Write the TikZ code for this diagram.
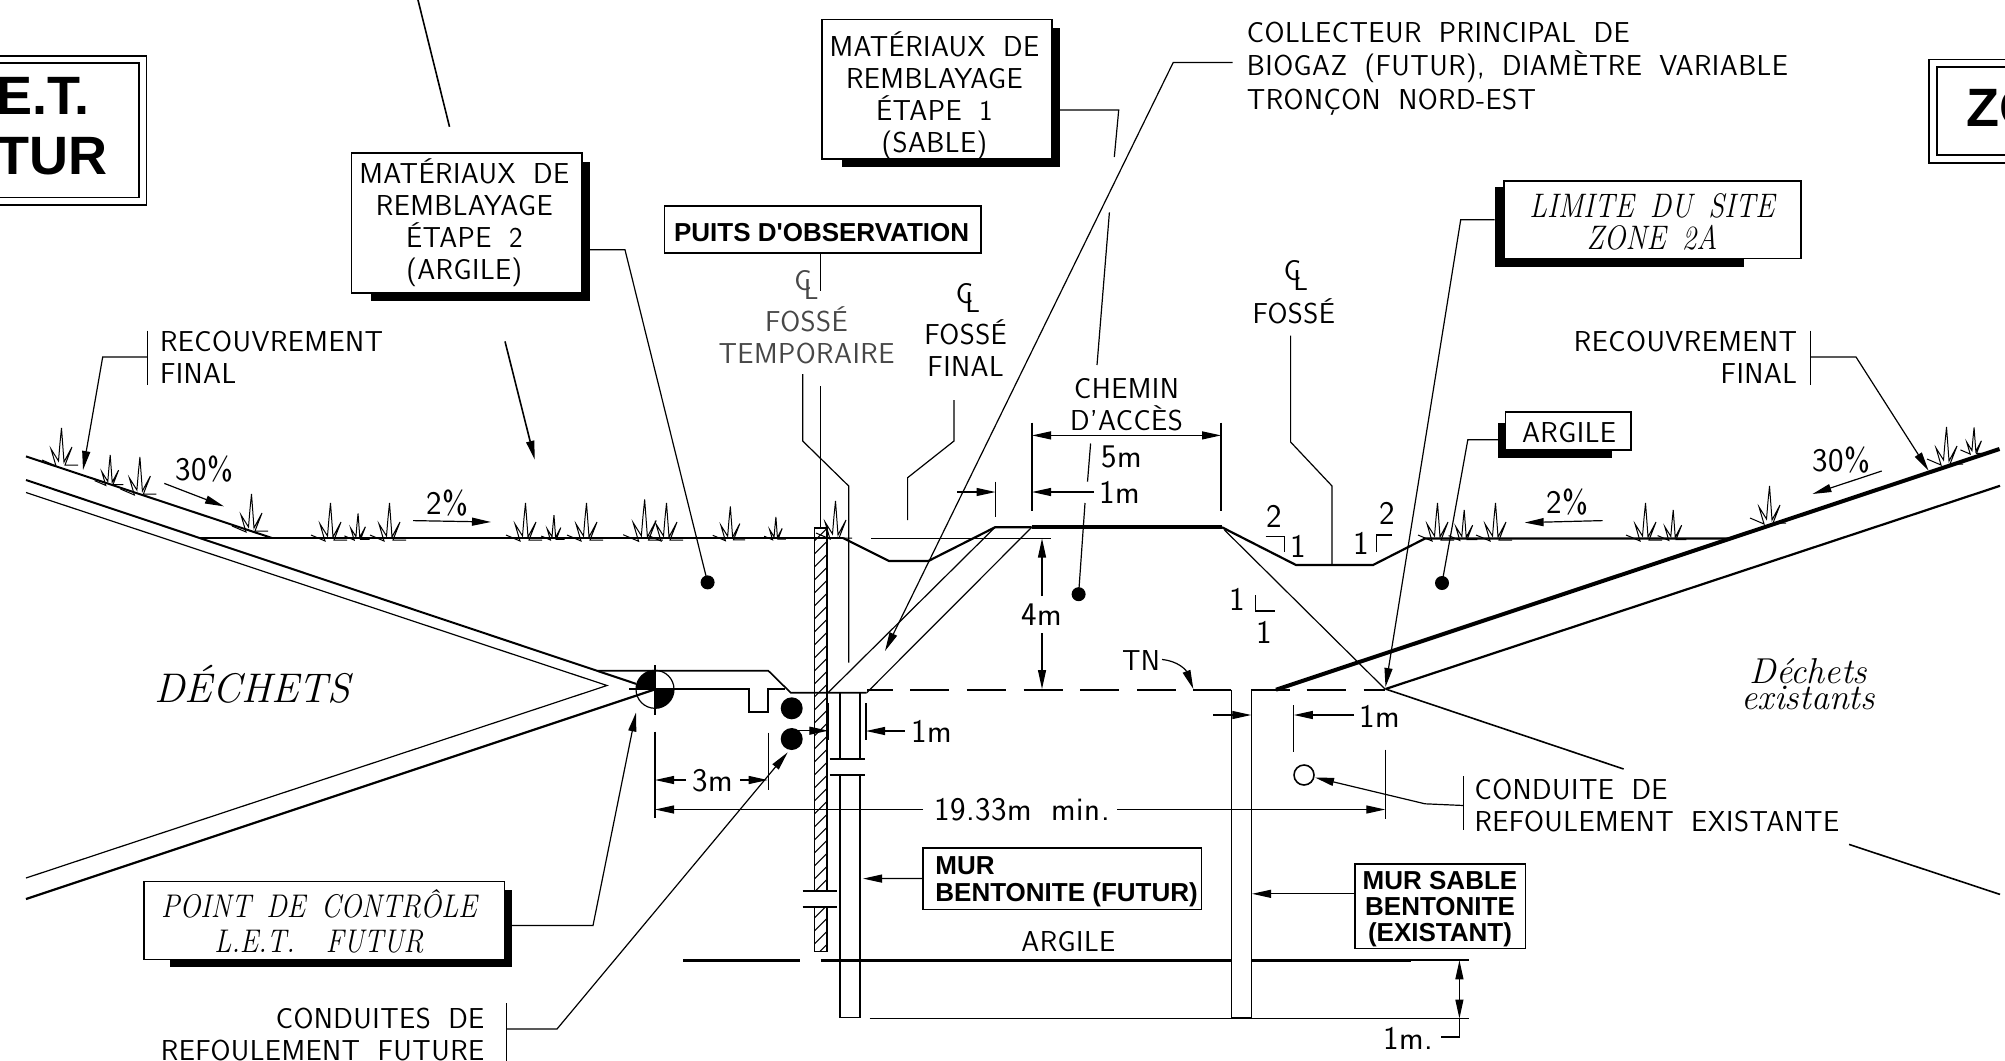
\documentclass[tikz,border=0pt]{standalone}
\usepackage{fontspec}
\usetikzlibrary{arrows.meta,calc}
\setsansfont{Latin Modern Sans}[WordSpace=1.85,LetterSpace=1.5]
\newfontfamily\cadbold{Liberation Sans}
\newfontfamily\cadital{Latin Modern Roman}[FakeStretch=0.85,WordSpace=1.6]
\tikzset{
  x=0.5pt,y=-0.5pt,
  >={Triangle[length=9.5pt,width=4pt]},
  thin line/.style={line width=0.6pt,line join=miter},
  reg line/.style={line width=0.8pt},
  heavy line/.style={line width=1.5pt},
  heavier line/.style={line width=2pt},
  lbl/.style={inner sep=0pt,outer sep=0pt,font=\fontsize{14.4}{16}\selectfont\sffamily,align=flush center},
  dimlbl/.style={inner sep=0pt,outer sep=0pt,font=\fontsize{16.5}{18}\selectfont\sffamily,align=flush center},
  lblfaint/.style={lbl,text=black!72},
  ital/.style={inner sep=0pt,font=\fontsize{17}{17.3}\selectfont\cadital\itshape,align=flush center},
  bld/.style={inner sep=0pt,font=\fontsize{13}{13.5}\selectfont\cadbold\bfseries,align=flush left},
  ttl/.style={inner sep=0pt,font=\fontsize{27}{30}\selectfont\cadbold\bfseries},
  tbox/.style={draw,line width=0.8pt,fill=white,inner sep=0pt,outer sep=0pt},
  shbox/.style={fill=black,inner sep=0pt,outer sep=0pt},
}
% rectangle node given left, top, right, bottom in picture pixels
\newcommand\rectnode[7][]{%
  \pgfmathsetmacro\rw{(#5-#3)*0.5}\pgfmathsetmacro\rh{(#6-#4)*0.5}%
  \node[#2,minimum width=\rw pt,minimum height=\rh pt,#1] (#7) at ({(#3+#5)/2},{(#4+#6)/2}) {};}
\newcommand\clsym{\rlap{C}\kern0.33em\lower0.32em\hbox{L}}
\begin{document}
\begin{tikzpicture}
\clip (0,0) rectangle (2005,1060);
%% title boxes
\draw[reg line] (-5,55.8) rectangle (146.4,204.9);
\draw[reg line] (-5,63.2) rectangle (138.8,197.4);
\node[ttl,anchor=east] (ttlA) at (90,95.5) {E.T.};
\node[ttl,anchor=east] (ttlB) at (108,156) {TUR};
\draw[reg line] (2010,59.5) -- (1929,59.5) -- (1929,163) -- (2010,163);
\draw[reg line] (2010,67) -- (1937,67) -- (1937,155) -- (2010,155);
\node[ttl,anchor=west] (ttlC) at (1966,108) {ZO};

%% ground : left waste wedge
\draw[line width=1pt] (26,456.4) -- (272,538);
\draw[line width=1pt] (26,480) -- (636,683.8);
\draw[thin line] (26,492.5) -- (607,685.5) -- (26,878);
\draw[line width=1.1pt] (656,689) -- (26,899);
\draw[reg line] (199,538) -- (843,538);
%% ditch and road profile
\draw[line width=1.1pt] (843,538) -- (889,561) -- (928.3,561) -- (995,527.3) -- (1031.7,527.3);
\draw[line width=2pt] (1031.7,527.3) -- (1222,527.3);
\draw[line width=1.1pt] (1222,527.3) -- (1296,565) -- (1373,565) -- (1425,538.5) -- (1728,538.5);
\draw[thin line] (871,538.5) -- (1051.3,538.5);
%% right slopes
\draw[heavier line] (1276,689.7) -- (1999.5,449);
\draw[line width=1.1pt] (1385.5,689) -- (2000,485.8);
\draw[thin line] (1224.5,530) -- (1385,689);
\draw[reg line] (1385.5,689) -- (1623.6,769);
\draw[reg line] (1849,844.4) -- (2000,894.4);
%% control point
\draw[reg line] (598,670.7) -- (768.3,670.7) -- (790.7,692.7) -- (866.7,692.7);
\draw[line width=1pt] (629.3,689.3) -- (749,689.3) -- (749,712) -- (767.7,712) -- (767.7,689.3) -- (785,689.3);
\draw[line width=.9pt] (867,689.7) -- (892.7,689.7);
\draw[thin line] (828,692.7) -- (995,527.3);
\draw[thin line] (866.7,692.7) -- (1031.7,527.3);
\draw[line width=.9pt,dash pattern=on 19.5pt off 8.9pt] (910,689.7) -- (1176,689.7);
\draw[reg line] (1193.3,689.7) -- (1231.3,689.7);
\draw[reg line] (1251.3,689.7) -- (1276,689.7);
\draw[line width=.9pt] (1276,689.7) -- (1289.7,689.7);
\draw[line width=.9pt,dash pattern=on 19.5pt off 9pt] (1306.6,689.7) -- (1385,689.7);
\draw[thin line] (655,689.3) circle[radius=19];
\fill (655,689.3) -- (655,670.3) arc[start angle=-90,end angle=-180,radius=19] -- cycle;
\fill (655,689.3) -- (655,708.3) arc[start angle=90,end angle=0,radius=19] -- cycle;
\draw[thin line] (655,665) -- (655,715);

%% hatched trench
\begin{scope}
  \clip (814.3,528) rectangle (826.7,891) (814.3,907) rectangle (826.7,951.6);
  \foreach \yy in {528,541,...,980} \draw[line width=0.55pt] (814.3,\yy) -- (826.7,\yy-12.4);
\end{scope}
\draw[reg line] (814.3,891) -- (814.3,528) -- (826.7,528) -- (826.7,891);
\draw[reg line] (814.3,907) -- (814.3,951.6) -- (826.7,951.6) -- (826.7,907);
\draw[reg line] (802.7,891) -- (837,891);
\draw[reg line] (802.7,907) -- (837,907);
%% bentonite wall (future)
\draw[reg line] (839.7,693) -- (839.7,759);
\draw[reg line] (859.8,693) -- (859.8,759);
\draw[reg line] (829.5,759) -- (865,759);
\draw[reg line] (829.5,775) -- (865,775);
\draw[reg line] (839.7,775) -- (839.7,1017.5) -- (859.8,1017.5) -- (859.8,775);
%% existing wall
\draw[reg line] (1231.3,689.7) -- (1231.3,1017.5) -- (1251.3,1017.5) -- (1251.3,689.7);
%% clay bed
\draw[heavy line] (683,960) -- (800.4,960);
\draw[heavy line] (820.5,960) -- (1231.3,960);
\draw[heavy line] (1251.3,960) -- (1411.4,960);
\draw[reg line] (1411.4,960) -- (1469,960);
\draw[reg line] (869.6,1018.5) -- (1469,1018.5);
%% dots
\fill (791.7,708.3) circle[radius=11];
\fill (791.7,739) circle[radius=11];
\fill (707.6,582.4) circle[radius=7];
\fill (1078.6,594.2) circle[radius=7];
\fill (1442,583) circle[radius=7];
\draw[reg line] (1304,775) circle[radius=10];

%% grass
\foreach \bx/\by/\s in {60/463/1,109/483/.8,138.4/492/1,250/529/1,329/538/1,357/538/.7,388/538/1,524/538/1,553/538/.65,585/538/1,643/538/1.1,665/538/1,729/538/.9,775/538/.6,834/536/1,1436/538/1,1463/538/.8,1494/538/1,1644/538/1,1672/538/.8,1768/521/1,1945/462/1,1973/452/.7}{
  \begin{scope}[shift={(\bx,\by)},scale=\s]
   \draw[line width=0.5pt,line join=miter] (-18,-3) -- (-4,3) -- (-9,-14) -- (-1.5,-2) -- (0,-20) -- (1.5,-35) -- (4,-1) -- (12,-16) -- (5,2) -- (18,2);
  \end{scope}}

%% slope arrows and texts
\node[dimlbl] (pA) at (204.5,469) {30\%};
\draw[->,thin line] (164.3,483.4) -- (224,506.4);
\node[dimlbl] (pB) at (447.8,502.7) {2\%};
\draw[->,thin line] (413,520.6) -- (491,522);
\node[dimlbl] (pC) at (1841,460.4) {30\%};
\draw[->,thin line] (1881.7,471) -- (1812.4,494);
\node[dimlbl] (pD) at (1567,502) {2\%};
\draw[->,thin line] (1602.7,520.6) -- (1524.6,522.6);

%% slope ratios
\node[dimlbl] (sA) at (1274.5,516) {2};
\node[dimlbl] (sB) at (1298,546) {1};
\draw[thin line] (1265.6,536.8) -- (1284.8,536.8) -- (1284.8,552);
\node[dimlbl] (sC) at (1387.5,513) {2};
\node[dimlbl] (sD) at (1361,543.5) {1};
\draw[thin line] (1376.3,552) -- (1376.3,535) -- (1392,535);
\node[dimlbl] (sE) at (1237,599.3) {1};
\node[dimlbl] (sF) at (1264.7,632.4) {1};
\draw[thin line] (1255.8,595) -- (1255.8,611) -- (1275,611);

%% text labels
\node[ital,font=\fontsize{20.7}{24}\selectfont\rmfamily\itshape] (dechA) at (252.5,684.5) {DÉCHETS};
\node[ital,font=\fontsize{18}{12.7}\selectfont\rmfamily\itshape] (dechB) at (1808.3,684) {Déchets\\existants};
\node[lbl,anchor=west,align=flush left] (recA) at (160,357.5) {RECOUVREMENT\\FINAL};
\draw[thin line] (147.3,330.6) -- (147.3,384.7);
\coordinate (recAt) at (83,470);
\draw[->,thin line] (147.3,357) -- (102.7,357) -- (recAt);
\node[lbl,anchor=east,align=flush right] (recB) at (1797,357.5) {RECOUVREMENT\\FINAL};
\draw[thin line] (1810.7,330.6) -- (1810.7,384.7);
\coordinate (recBt) at (1928.5,470.6);
\draw[->,thin line] (1810.7,357) -- (1856,357) -- (recBt);

%% stage 2 box
\coordinate (topa) at (418,0); \coordinate (topb) at (449.5,126.8);
\draw[reg line] (topa) -- (topb);
\rectnode{shbox}{371}{161.6}{589.7}{300.5}{shA}
\rectnode{tbox}{351.3}{152.8}{581.7}{292.8}{bxA}
\node[lbl] (txA) at (464.3,222.5) {MATÉRIAUX DE\\REMBLAYAGE\\ÉTAPE 2\\(ARGILE)};
\coordinate (dotA) at (707.6,582.4);
\draw[thin line] (shA.east |- 0,249.8) -- (625,249.8) -- (dotA);
\coordinate (arrA) at (505,341.4); \coordinate (arrAt) at (534.8,459.8);
\draw[->,reg line] (arrA) -- (arrAt);

%% stage 1 box
\rectnode{shbox}{841.5}{28.4}{1059.8}{167.3}{shB}
\rectnode{tbox}{821.9}{19.6}{1052.2}{159.2}{bxB}
\node[lbl] (txB) at (934.4,95.5) {MATÉRIAUX DE\\REMBLAYAGE\\ÉTAPE 1\\(SABLE)};
\coordinate (bA) at (1114.3,157); \coordinate (bB) at (1109.4,212.3); \coordinate (bC) at (1097,365);
\coordinate (bD) at (1090.6,443.5); \coordinate (bE) at (1087.5,481.7); \coordinate (bF) at (1085,503); \coordinate (dotB) at (1078.6,594.2);
\draw[thin line] (shB.east |- 0,110) -- (1118.7,110) -- (bA);
\draw[thin line] (bB) -- (bC);
\draw[thin line] (bD) -- (bE);
\draw[thin line] (bF) -- (dotB);

%% observation well
\rectnode{tbox}{664.3}{206.2}{981}{252.9}{bxC}
\node[bld] (txC) at (821.6,232.5) {PUITS D'OBSERVATION};
\draw[thin line] (820.5,254) -- (820.5,290.7);
\node[lblfaint] (clA) at (806.5,285) {\clsym};
\node[lblfaint] (txD) at (806.5,335.5) {FOSSÉ\\TEMPORAIRE};
\draw[thin line] (802.7,374) -- (802.7,441) -- (848.7,486) -- (848.7,662.5);
\draw[thin line] (820.5,386.4) -- (820.5,528);

%% final ditch
\node[lbl] (clB) at (968,298) {\clsym};
\node[lbl] (txE) at (965.6,348) {FOSSÉ\\FINAL};
\draw[thin line] (954,400) -- (954,441) -- (907.6,477.7) -- (907.6,520);

%% ditch right
\node[lbl] (clC) at (1296,275.5) {\clsym};
\node[lbl] (txF) at (1293.8,311.7) {FOSSÉ};
\draw[thin line] (1290.6,335.7) -- (1290.6,442) -- (1332,486) -- (1332,565);

%% collector
\node[lbl,anchor=west,align=flush left,font=\fontsize{14.4}{16.6}\selectfont\sffamily] (txG) at (1246.9,68.5) {COLLECTEUR PRINCIPAL DE\\BIOGAZ (FUTUR), DIAMÈTRE VARIABLE\\TRONÇON NORD-EST};
\coordinate (colt) at (885,651);
\draw[->,thin line] (1232.6,62.5) -- (1173.2,62.5) -- (colt);

%% road dims
\node[lbl] (txH) at (1126.5,404.5) {CHEMIN\\D'ACCÈS};
\draw[thin line] (1032,422.6) -- (1032,511);
\draw[thin line] (1221,422.6) -- (1221,511);
\draw[<->,thin line] (1032,435.4) -- (1221,435.4);
\node[dimlbl] (txI) at (1122,457) {5m};
\node[dimlbl] (txJ) at (1119.6,492.5) {1m};
\draw[->,thin line] (1094,492) -- (1032,492);
\draw[thin line] (995.5,481.7) -- (995.5,517);
\draw[->,thin line] (957,492) -- (995.5,492);

%% 4m
\node[dimlbl] (txK) at (1042,615) {4m};
\draw[->,thin line] (1042,596) -- (1042,538.5);
\draw[->,thin line] (1042,633) -- (1042,689);

%% TN
\node[lbl] (txL) at (1141,660) {TN};
\coordinate (tnt) at (1193.3,689);
\draw[->,thin line] (1162,659.5) .. controls (1178,661) and (1186,670) .. (tnt);

%% 1m future wall
\draw[thin line] (828.3,703.3) -- (828.3,740);
\draw[thin line] (866,703.3) -- (866,740);
\draw[->,thin line] (798.3,730.7) -- (828.3,730.7);
\draw[->,thin line] (904.5,731) -- (866,731);
\node[dimlbl] (txM) at (932,731) {1m};

%% 1m existing wall
\draw[thin line] (1251.3,689.7) -- (1251.3,734.5);
\draw[thin line] (1293.8,705) -- (1293.8,752.4);
\draw[->,thin line] (1213.4,715) -- (1251.3,715);
\draw[->,thin line] (1354,715) -- (1293.8,715);
\node[dimlbl] (txN) at (1380,716) {1m};

%% 3m and 19.33m
\draw[thin line] (655,731.7) -- (655,818);
\draw[thin line] (768.3,732.7) -- (768.3,790);
\node[dimlbl] (txO) at (713,780.7) {3m};
\draw[->,thin line] (686,780) -- (655,780);
\draw[->,thin line] (740,780) -- (767.7,780);
\node[dimlbl] (txP) at (1022,809.5) {19.33m min.};
\draw[->,thin line] (923,809.5) -- (655,809.5);
\draw[->,thin line] (1117.4,809.5) -- (1385.3,809.5);
\draw[thin line] (1385.3,749.7) -- (1385.3,819);

%% existing pipe
\node[lbl,anchor=west,align=flush left] (txQ) at (1474.5,805.5) {CONDUITE DE\\REFOULEMENT EXISTANTE};
\draw[thin line] (1463.6,776) -- (1463.6,830);
\coordinate (pipet) at (1315,777.5);
\draw[->,thin line] (1463.6,805.5) -- (1425,803.8) -- (pipet);

%% control point label
\rectnode{shbox}{170}{890}{512}{966.8}{shD}
\rectnode{tbox}{144.2}{881.6}{504.5}{959.3}{bxD}
\node[ital,font=\fontsize{16.4}{17.3}\selectfont\cadital\itshape] (txR) at (319,921.5) {POINT DE CONTRÔLE\\L.E.T.\ \ FUTUR};
\coordinate (ctrlt) at (636,712.5);
\draw[->,thin line] (shD.east |- 0,925.5) -- (593,925.5) -- (ctrlt);

%% future pipes label
\node[lbl,anchor=east,align=flush right] (txS) at (484.4,1034) {CONDUITES DE\\REFOULEMENT FUTURE};
\draw[thin line] (506.7,1003) -- (506.7,1062);
\coordinate (pipeft) at (787.7,752.3);
\draw[->,thin line] (506.7,1029) -- (557,1029) -- (pipeft);

%% wall labels
\rectnode{tbox}{923.2}{847.8}{1201.3}{909.3}{bxE}
\node[bld,anchor=west] (txT) at (935,882) {MUR\\BENTONITE (FUTUR)};
\draw[->,thin line] (bxE.west) -- (863,878.6);
\node[lbl] (txU) at (1068.3,941.8) {ARGILE};
\rectnode{tbox}{1355}{863.7}{1525.4}{948.5}{bxF}
\node[bld,align=flush center,font=\fontsize{13}{12.9}\selectfont\cadbold\bfseries] (txV) at (1440,909) {MUR SABLE\\BENTONITE\\(EXISTANT)};
\draw[->,thin line] (bxF.west |- 0,893.8) -- (1252,893.8);

%% 1m lower
\node[dimlbl] (txW) at (1408.5,1038.8) {1m.};
\draw[thin line] (1441,1037) -- (1459.4,1037) -- (1459.4,1018.5);
\draw[<->,thin line] (1459.4,960.3) -- (1459.4,1018.5);

%% site limit
\rectnode{shbox}{1494.5}{187}{1743.5}{267.4}{shG}
\rectnode{tbox}{1503.7}{180.9}{1801}{258.6}{bxG}
\node[ital,font=\fontsize{17}{16}\selectfont\cadital\itshape] (txX) at (1652,222) {LIMITE DU SITE\\ZONE 2A};
\coordinate (limt) at (1385.5,687);
\draw[->,thin line] (shG.west |- 0,219.7) -- (1460.7,219.7) -- (limt);

%% clay label
\rectnode{shbox}{1497.9}{423}{1611.5}{458}{shH}
\rectnode{tbox}{1505.4}{412}{1630.7}{450}{bxH}
\node[lbl] (txY) at (1569,432.5) {ARGILE};
\coordinate (dotC) at (1442,583);
\draw[thin line] (shH.west |- 0,439.8) -- (1467.8,439.8) -- (dotC);
\end{tikzpicture}
\end{document}
